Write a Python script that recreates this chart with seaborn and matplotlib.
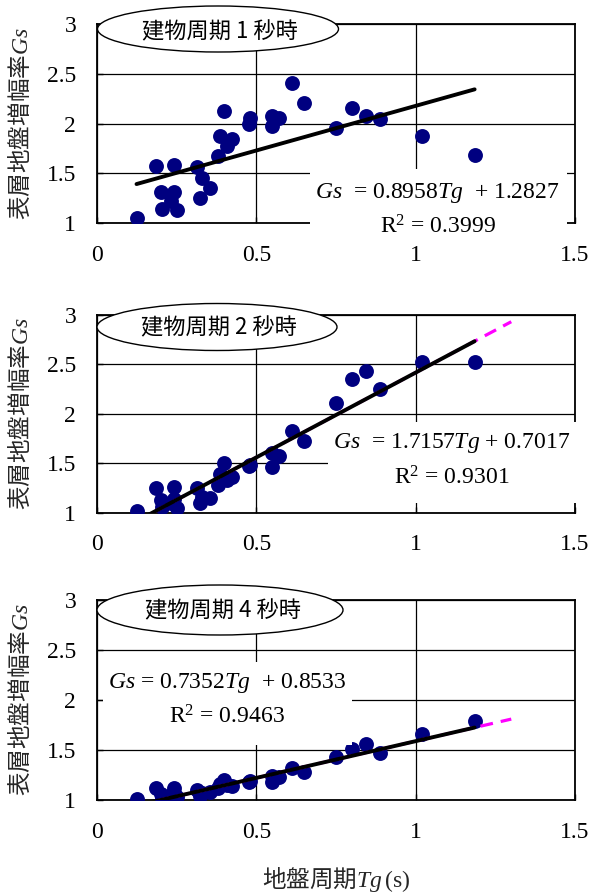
import numpy as np
import pandas as pd
import matplotlib
matplotlib.use("Agg")
import matplotlib.pyplot as plt
import seaborn as sns
from matplotlib.patches import Ellipse, Rectangle

# ---------------- data ----------------
Tg = [0.124, 0.186, 0.241, 0.202, 0.242, 0.204, 0.252, 0.232, 0.315, 0.328,
      0.354, 0.322, 0.380, 0.385, 0.425, 0.409, 0.399, 0.481, 0.478, 0.549,
      0.571, 0.549, 0.613, 0.650, 0.751, 0.800, 0.843, 0.889, 1.020, 1.185]
Gs_1s = [1.05, 1.57, 1.59, 1.31, 1.31, 1.14, 1.13, 1.22, 1.56, 1.45,
         1.35, 1.25, 1.68, 1.88, 1.85, 1.78, 2.13, 2.06, 2.00, 2.08,
         2.06, 1.98, 2.41, 2.21, 1.96, 2.16, 2.08, 2.05, 1.88, 1.69]
Gs_2s = [1.02, 1.25, 1.26, 1.13, 1.14, 1.06, 1.05, 1.10, 1.25, 1.16,
         1.15, 1.10, 1.28, 1.39, 1.36, 1.33, 1.50, 1.48, 1.47, 1.60,
         1.57, 1.46, 1.83, 1.73, 2.11, 2.35, 2.43, 2.25, 2.52, 2.52]
Gs_4s = [1.01, 1.12, 1.12, 1.06, 1.07, 1.02, 1.03, 1.05, 1.10, 1.07,
         1.08, 1.04, 1.12, 1.16, 1.14, 1.15, 1.20, 1.19, 1.18, 1.24,
         1.23, 1.18, 1.32, 1.28, 1.43, 1.51, 1.56, 1.47, 1.66, 1.79]
titles = ["建物周期 1 秒時", "建物周期 2 秒時", "建物周期 4 秒時"]
slopes = [0.8958, 1.7157, 0.7352]
intercepts = [1.2827, 0.7017, 0.8533]
r2_values = [0.3999, 0.9301, 0.9463]
eq_texts = [r"$Gs$  = 0.8958$Tg$  + 1.2827",
            r"$Gs$  = 1.7157$Tg$ + 0.7017",
            r"$Gs$ = 0.7352$Tg$  + 0.8533"]
trend_end = [None, 1.3, 1.3]
xticks = [0, 0.5, 1, 1.5]
xticklabels = ["0", "0.5", "1", "1.5"]
yticks = [1, 1.5, 2, 2.5, 3]
yticklabels = ["1", "1.5", "2", "2.5", "3"]
ylabel = r"表層地盤増幅率$Gs$"
xlabel = r"地盤周期$Tg\,\mathrm{(s)}$"

series = [Gs_1s, Gs_2s, Gs_4s]

# ---------------- style ----------------
sns.set_theme(style="white")
plt.rcParams["font.family"] = ["Liberation Serif", "DejaVu Sans"]
plt.rcParams["mathtext.fontset"] = "custom"
plt.rcParams["mathtext.rm"] = "Liberation Serif"
plt.rcParams["mathtext.it"] = "Liberation Serif:italic"
plt.rcParams["mathtext.bf"] = "Liberation Serif:bold"

W, H = 591, 893
fig = plt.figure(figsize=(W / 100, H / 100), dpi=100)
fig.patch.set_facecolor("white")

def fx(px):
    return px / W

def fy(py):
    return 1 - py / H

# axes boxes in pixels: (left, top, right, bottom)
boxes = [(97, 24, 575, 223.3), (97, 315, 575, 512.7), (97, 600, 575, 800)]
ellipses = [((218, 29), 241, 46), ((217, 327), 240, 47), ((220, 610), 246, 50)]
title_pos = [(220, 32), (218.5, 328), (222.7, 611)]
white_boxes = [(310, 169, 567, 238), (328, 422, 579, 503), (103, 662, 352, 745)]
eq_pos = [((437, 193), (438, 227)), ((452, 443), (452, 478)), ((227, 683), (227, 717))]

cjk = ["Noto Sans CJK JP", "DejaVu Sans"]

for i in range(3):
    l, t, r, b = boxes[i]
    ax = fig.add_axes([fx(l), fy(b), (r - l) / W, (b - t) / H])
    df = pd.DataFrame({"Tg": Tg, "Gs": series[i]})
    sns.scatterplot(data=df, x="Tg", y="Gs", ax=ax, color="#000080", s=115,
                    linewidth=0, zorder=3, legend=False)
    x0, x1 = min(Tg), max(Tg)
    if trend_end[i] is not None:
        xs = np.array([x0, trend_end[i]])
        ax.plot(xs, slopes[i] * xs + intercepts[i], color="#FF00FF", lw=2.3,
                linestyle=(0, (4, 2.5)), zorder=4, solid_capstyle="butt")
    xs = np.array([x0, x1])
    ax.plot(xs, slopes[i] * xs + intercepts[i], color="black", lw=2.8, zorder=5)

    ax.set_xlim(0, 1.5)
    ax.set_ylim(1, 3)
    ax.set_xticks(xticks)
    ax.set_xticklabels(xticklabels)
    ax.set_yticks(yticks)
    ax.set_yticklabels(yticklabels)
    ax.grid(True, color="black", lw=0.9)
    ax.set_axisbelow(True)
    for s in ax.spines.values():
        s.set_color("black")
        s.set_linewidth(1.3)
    ax.tick_params(axis="both", which="both", direction="in", length=4, width=1,
                   color="black", labelsize=17, labelcolor="black",
                   left=True, bottom=True, right=False, top=False)
    ax.tick_params(axis="y", pad=15)
    ax.tick_params(axis="x", pad=15.5)
    ax.set_xlabel("")
    ax.set_ylabel(ylabel, fontsize=17, family=cjk, va="center")
    ax.yaxis.set_label_coords(-0.161, 0.5)
    if i == 2:
        ax.set_xlabel(xlabel, fontsize=17, family=cjk, va="center")
        ax.xaxis.set_label_coords(0.5, -0.395)

    # white box behind the equation
    bl, bt, br, bb = white_boxes[i]
    fig.add_artist(Rectangle((fx(bl), fy(bb)), (br - bl) / W, (bb - bt) / H,
                             transform=fig.transFigure, facecolor="white",
                             edgecolor="none", zorder=5))
    (ex1, ey1), (ex2, ey2) = eq_pos[i]
    fig.text(fx(ex1), fy(ey1), eq_texts[i], fontsize=17, ha="center", va="center",
             color="black", zorder=6)
    fig.text(fx(ex2), fy(ey2), r"$\mathrm{R}^2$ = " + f"{r2_values[i]:.4f}",
             fontsize=17, ha="center", va="center", color="black", zorder=6)

    # title ellipse
    (cx, cy), ew, eh = ellipses[i]
    fig.add_artist(Ellipse((fx(cx), fy(cy)), ew / W, eh / H,
                           transform=fig.transFigure, facecolor="white",
                           edgecolor="black", lw=1.0, zorder=5))
    tx, ty = title_pos[i]
    fig.text(fx(tx), fy(ty), titles[i], fontsize=16, family=cjk,
             ha="center", va="center", color="black", zorder=6)

fig.savefig("out.png", dpi=100, facecolor="white")
